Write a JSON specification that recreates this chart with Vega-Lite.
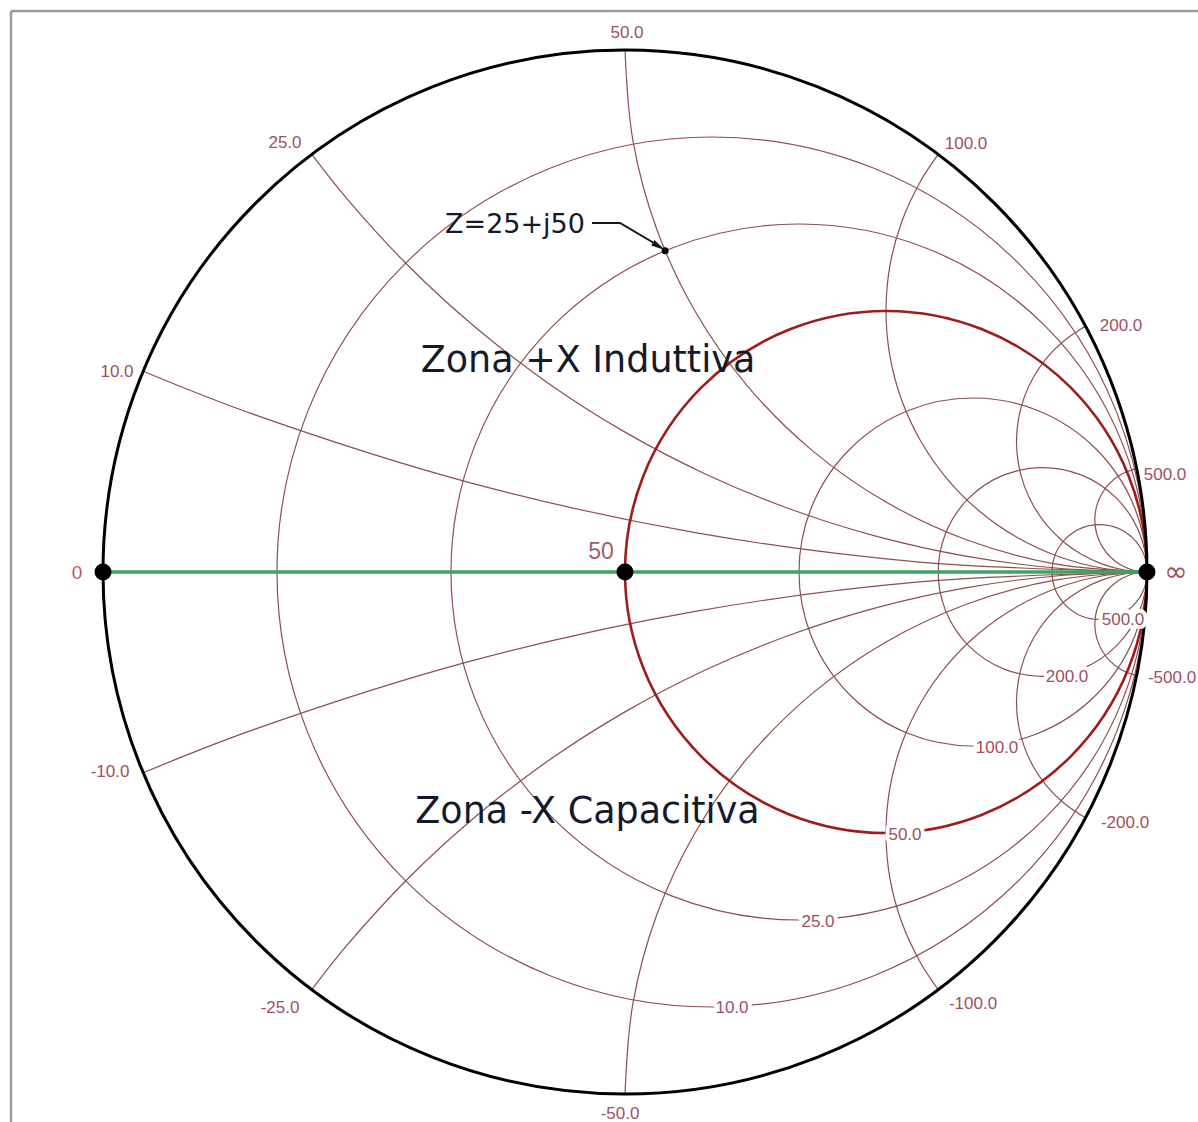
{
 "$schema": "https://vega.github.io/schema/vega-lite/v6.json",
 "width": 1198, "height": 1122,
 "autosize": {"type": "none"},
 "padding": 0,
 "background": "#ffffff",
 "config": {"view": {"stroke": null}},
 "datasets": {
  "borderv": [{"u": -1.17625, "v": -1.06, "v2": 1.07471}],
  "borderh": [{"u": -1.17625, "u2": 1.1, "v": 1.07471}],
  "rcircles": [
   {"r": "0", "kind": "outer", "u": 0, "v": 0, "radius": 1},
   {"r": "10", "kind": "grid", "u": 0.16667, "v": 0, "radius": 0.83333},
   {"r": "25", "kind": "grid", "u": 0.33333, "v": 0, "radius": 0.66667},
   {"r": "50", "kind": "match", "u": 0.5, "v": 0, "radius": 0.5},
   {"r": "100", "kind": "grid", "u": 0.66667, "v": 0, "radius": 0.33333},
   {"r": "200", "kind": "grid", "u": 0.8, "v": 0, "radius": 0.2},
   {"r": "500", "kind": "grid", "u": 0.90909, "v": 0, "radius": 0.09091}
  ],
  "xarcs": [
   {"arc": "p10", "i": 0, "u": 1, "v": 0},
   {"arc": "p10", "i": 1, "u": 0.5642, "v": 0.01905},
   {"arc": "p10", "i": 2, "u": 0.13175, "v": 0.07595},
   {"arc": "p10", "i": 3, "u": -0.2941, "v": 0.17035},
   {"arc": "p10", "i": 4, "u": -0.7101, "v": 0.30155},
   {"arc": "p10", "i": 5, "u": -0.92308, "v": 0.38462},
   {"arc": "p25", "i": 0, "u": 1, "v": 0},
   {"arc": "p25", "i": 1, "u": 0.82568, "v": 0.00762},
   {"arc": "p25", "i": 2, "u": 0.6527, "v": 0.03038},
   {"arc": "p25", "i": 3, "u": 0.48236, "v": 0.06814},
   {"arc": "p25", "i": 4, "u": 0.31596, "v": 0.12062},
   {"arc": "p25", "i": 5, "u": 0.15476, "v": 0.18738},
   {"arc": "p25", "i": 6, "u": 0, "v": 0.26794},
   {"arc": "p25", "i": 7, "u": -0.14716, "v": 0.3617},
   {"arc": "p25", "i": 8, "u": -0.28558, "v": 0.46792},
   {"arc": "p25", "i": 9, "u": -0.41422, "v": 0.58578},
   {"arc": "p25", "i": 10, "u": -0.53208, "v": 0.71442},
   {"arc": "p25", "i": 11, "u": -0.6, "v": 0.8},
   {"arc": "p50", "i": 0, "u": 1, "v": 0},
   {"arc": "p50", "i": 1, "u": 0.82635, "v": 0.01519},
   {"arc": "p50", "i": 2, "u": 0.65798, "v": 0.06031},
   {"arc": "p50", "i": 3, "u": 0.5, "v": 0.13397},
   {"arc": "p50", "i": 4, "u": 0.35721, "v": 0.23396},
   {"arc": "p50", "i": 5, "u": 0.23396, "v": 0.35721},
   {"arc": "p50", "i": 6, "u": 0.13397, "v": 0.5},
   {"arc": "p50", "i": 7, "u": 0.06031, "v": 0.65798},
   {"arc": "p50", "i": 8, "u": 0.01519, "v": 0.82635},
   {"arc": "p50", "i": 9, "u": 0, "v": 1},
   {"arc": "p100", "i": 0, "u": 1, "v": 0},
   {"arc": "p100", "i": 1, "u": 0.91318, "v": 0.0076},
   {"arc": "p100", "i": 2, "u": 0.82899, "v": 0.03016},
   {"arc": "p100", "i": 3, "u": 0.75, "v": 0.06699},
   {"arc": "p100", "i": 4, "u": 0.6786, "v": 0.11698},
   {"arc": "p100", "i": 5, "u": 0.61698, "v": 0.17861},
   {"arc": "p100", "i": 6, "u": 0.56698, "v": 0.25},
   {"arc": "p100", "i": 7, "u": 0.53015, "v": 0.32899},
   {"arc": "p100", "i": 8, "u": 0.50759, "v": 0.41318},
   {"arc": "p100", "i": 9, "u": 0.5, "v": 0.5},
   {"arc": "p100", "i": 10, "u": 0.50759, "v": 0.58683},
   {"arc": "p100", "i": 11, "u": 0.53015, "v": 0.67101},
   {"arc": "p100", "i": 12, "u": 0.56698, "v": 0.75},
   {"arc": "p100", "i": 13, "u": 0.6, "v": 0.8},
   {"arc": "p200", "i": 0, "u": 1, "v": 0},
   {"arc": "p200", "i": 1, "u": 0.95659, "v": 0.0038},
   {"arc": "p200", "i": 2, "u": 0.9145, "v": 0.01508},
   {"arc": "p200", "i": 3, "u": 0.875, "v": 0.03349},
   {"arc": "p200", "i": 4, "u": 0.8393, "v": 0.05849},
   {"arc": "p200", "i": 5, "u": 0.80849, "v": 0.0893},
   {"arc": "p200", "i": 6, "u": 0.78349, "v": 0.125},
   {"arc": "p200", "i": 7, "u": 0.76508, "v": 0.1645},
   {"arc": "p200", "i": 8, "u": 0.7538, "v": 0.20659},
   {"arc": "p200", "i": 9, "u": 0.75, "v": 0.25},
   {"arc": "p200", "i": 10, "u": 0.7538, "v": 0.29341},
   {"arc": "p200", "i": 11, "u": 0.76508, "v": 0.3355},
   {"arc": "p200", "i": 12, "u": 0.78349, "v": 0.375},
   {"arc": "p200", "i": 13, "u": 0.80849, "v": 0.4107},
   {"arc": "p200", "i": 14, "u": 0.8393, "v": 0.44151},
   {"arc": "p200", "i": 15, "u": 0.875, "v": 0.46651},
   {"arc": "p200", "i": 16, "u": 0.88235, "v": 0.47059},
   {"arc": "p500", "i": 0, "u": 1, "v": 0},
   {"arc": "p500", "i": 1, "u": 0.97412, "v": 0.00341},
   {"arc": "p500", "i": 2, "u": 0.95, "v": 0.0134},
   {"arc": "p500", "i": 3, "u": 0.92929, "v": 0.02929},
   {"arc": "p500", "i": 4, "u": 0.9134, "v": 0.05},
   {"arc": "p500", "i": 5, "u": 0.90341, "v": 0.07412},
   {"arc": "p500", "i": 6, "u": 0.9, "v": 0.1},
   {"arc": "p500", "i": 7, "u": 0.90341, "v": 0.12588},
   {"arc": "p500", "i": 8, "u": 0.9134, "v": 0.15},
   {"arc": "p500", "i": 9, "u": 0.92929, "v": 0.17071},
   {"arc": "p500", "i": 10, "u": 0.95, "v": 0.1866},
   {"arc": "p500", "i": 11, "u": 0.97412, "v": 0.19659},
   {"arc": "p500", "i": 12, "u": 0.9802, "v": 0.19802},
   {"arc": "m10", "i": 0, "u": 1, "v": 0},
   {"arc": "m10", "i": 1, "u": 0.5642, "v": -0.01905},
   {"arc": "m10", "i": 2, "u": 0.13175, "v": -0.07595},
   {"arc": "m10", "i": 3, "u": -0.2941, "v": -0.17035},
   {"arc": "m10", "i": 4, "u": -0.7101, "v": -0.30155},
   {"arc": "m10", "i": 5, "u": -0.92308, "v": -0.38462},
   {"arc": "m25", "i": 0, "u": 1, "v": 0},
   {"arc": "m25", "i": 1, "u": 0.82568, "v": -0.00762},
   {"arc": "m25", "i": 2, "u": 0.6527, "v": -0.03038},
   {"arc": "m25", "i": 3, "u": 0.48236, "v": -0.06814},
   {"arc": "m25", "i": 4, "u": 0.31596, "v": -0.12062},
   {"arc": "m25", "i": 5, "u": 0.15476, "v": -0.18738},
   {"arc": "m25", "i": 6, "u": 0, "v": -0.26794},
   {"arc": "m25", "i": 7, "u": -0.14716, "v": -0.3617},
   {"arc": "m25", "i": 8, "u": -0.28558, "v": -0.46792},
   {"arc": "m25", "i": 9, "u": -0.41422, "v": -0.58578},
   {"arc": "m25", "i": 10, "u": -0.53208, "v": -0.71442},
   {"arc": "m25", "i": 11, "u": -0.6, "v": -0.8},
   {"arc": "m50", "i": 0, "u": 1, "v": 0},
   {"arc": "m50", "i": 1, "u": 0.82635, "v": -0.01519},
   {"arc": "m50", "i": 2, "u": 0.65798, "v": -0.06031},
   {"arc": "m50", "i": 3, "u": 0.5, "v": -0.13397},
   {"arc": "m50", "i": 4, "u": 0.35721, "v": -0.23396},
   {"arc": "m50", "i": 5, "u": 0.23396, "v": -0.35721},
   {"arc": "m50", "i": 6, "u": 0.13397, "v": -0.5},
   {"arc": "m50", "i": 7, "u": 0.06031, "v": -0.65798},
   {"arc": "m50", "i": 8, "u": 0.01519, "v": -0.82635},
   {"arc": "m50", "i": 9, "u": 0, "v": -1},
   {"arc": "m100", "i": 0, "u": 1, "v": 0},
   {"arc": "m100", "i": 1, "u": 0.91318, "v": -0.0076},
   {"arc": "m100", "i": 2, "u": 0.82899, "v": -0.03016},
   {"arc": "m100", "i": 3, "u": 0.75, "v": -0.06699},
   {"arc": "m100", "i": 4, "u": 0.6786, "v": -0.11698},
   {"arc": "m100", "i": 5, "u": 0.61698, "v": -0.17861},
   {"arc": "m100", "i": 6, "u": 0.56698, "v": -0.25},
   {"arc": "m100", "i": 7, "u": 0.53015, "v": -0.32899},
   {"arc": "m100", "i": 8, "u": 0.50759, "v": -0.41318},
   {"arc": "m100", "i": 9, "u": 0.5, "v": -0.5},
   {"arc": "m100", "i": 10, "u": 0.50759, "v": -0.58683},
   {"arc": "m100", "i": 11, "u": 0.53015, "v": -0.67101},
   {"arc": "m100", "i": 12, "u": 0.56698, "v": -0.75},
   {"arc": "m100", "i": 13, "u": 0.6, "v": -0.8},
   {"arc": "m200", "i": 0, "u": 1, "v": 0},
   {"arc": "m200", "i": 1, "u": 0.95659, "v": -0.0038},
   {"arc": "m200", "i": 2, "u": 0.9145, "v": -0.01508},
   {"arc": "m200", "i": 3, "u": 0.875, "v": -0.03349},
   {"arc": "m200", "i": 4, "u": 0.8393, "v": -0.05849},
   {"arc": "m200", "i": 5, "u": 0.80849, "v": -0.0893},
   {"arc": "m200", "i": 6, "u": 0.78349, "v": -0.125},
   {"arc": "m200", "i": 7, "u": 0.76508, "v": -0.1645},
   {"arc": "m200", "i": 8, "u": 0.7538, "v": -0.20659},
   {"arc": "m200", "i": 9, "u": 0.75, "v": -0.25},
   {"arc": "m200", "i": 10, "u": 0.7538, "v": -0.29341},
   {"arc": "m200", "i": 11, "u": 0.76508, "v": -0.3355},
   {"arc": "m200", "i": 12, "u": 0.78349, "v": -0.375},
   {"arc": "m200", "i": 13, "u": 0.80849, "v": -0.4107},
   {"arc": "m200", "i": 14, "u": 0.8393, "v": -0.44151},
   {"arc": "m200", "i": 15, "u": 0.875, "v": -0.46651},
   {"arc": "m200", "i": 16, "u": 0.88235, "v": -0.47059},
   {"arc": "m500", "i": 0, "u": 1, "v": 0},
   {"arc": "m500", "i": 1, "u": 0.97412, "v": -0.00341},
   {"arc": "m500", "i": 2, "u": 0.95, "v": -0.0134},
   {"arc": "m500", "i": 3, "u": 0.92929, "v": -0.02929},
   {"arc": "m500", "i": 4, "u": 0.9134, "v": -0.05},
   {"arc": "m500", "i": 5, "u": 0.90341, "v": -0.07412},
   {"arc": "m500", "i": 6, "u": 0.9, "v": -0.1},
   {"arc": "m500", "i": 7, "u": 0.90341, "v": -0.12588},
   {"arc": "m500", "i": 8, "u": 0.9134, "v": -0.15},
   {"arc": "m500", "i": 9, "u": 0.92929, "v": -0.17071},
   {"arc": "m500", "i": 10, "u": 0.95, "v": -0.1866},
   {"arc": "m500", "i": 11, "u": 0.97412, "v": -0.19659},
   {"arc": "m500", "i": 12, "u": 0.9802, "v": -0.19802}
  ],
  "axis": [{"u": -1, "v": 0}, {"u": 1, "v": 0}],
  "markers": [{"point": "0", "u": -1, "v": 0}, {"point": "50", "u": 0, "v": 0}, {"point": "inf", "u": 1, "v": 0}],
  "zpoint": [{"point": "Z", "u": 0.07692, "v": 0.61538}],
  "ticklabels": [
   {"text": "50.0", "u": 0.00383, "v": 1.03257},
   {"text": "25.0", "u": -0.65134, "v": 0.82184},
   {"text": "100.0", "u": 0.65326, "v": 0.81992},
   {"text": "10.0", "u": -0.97318, "v": 0.38314},
   {"text": "200.0", "u": 0.95019, "v": 0.47126},
   {"text": "500.0", "u": 1.03448, "v": 0.18582},
   {"text": "-10.0", "u": -0.98659, "v": -0.38314},
   {"text": "-25.0", "u": -0.66092, "v": -0.83525},
   {"text": "-50.0", "u": -0.00958, "v": -1.03831},
   {"text": "-100.0", "u": 0.66667, "v": -0.82759},
   {"text": "-200.0", "u": 0.95785, "v": -0.48084},
   {"text": "-500.0", "u": 1.04789, "v": -0.20307},
   {"text": "10.0", "u": 0.20498, "v": -0.83525},
   {"text": "25.0", "u": 0.36973, "v": -0.6705},
   {"text": "50.0", "u": 0.5364, "v": -0.50383},
   {"text": "100.0", "u": 0.71264, "v": -0.33716},
   {"text": "200.0", "u": 0.84674, "v": -0.20115},
   {"text": "500.0", "u": 0.95402, "v": -0.09195}
  ],
  "axislabels": [
   {"text": "0", "u": -1.04981, "v": -0.00192},
   {"text": "50", "u": -0.04598, "v": 0.03831},
   {"text": "∞", "u": 1.05556, "v": -0.00192}
  ],
  "notes": [
   {"text": "Zona +X Induttiva", "kind": "zone", "u": -0.07088, "v": 0.38314},
   {"text": "Zona -X Capacitiva", "kind": "zone", "u": -0.07184, "v": -0.48084},
   {"text": "Z=25+j50", "kind": "z", "u": -0.21073, "v": 0.64943}
  ],
  "arrow": [
   {"i": 0, "u": -0.06322, "v": 0.66858},
   {"i": 1, "u": -0.00958, "v": 0.66858},
   {"i": 2, "u": 0.06513, "v": 0.62452}
  ],
  "arrowhead": [{"u": 0.06494, "v": 0.62375}]
 },
 "encoding": {
  "x": {"field": "u", "type": "quantitative", "scale": {"domain": [-1.19732, 1.0977], "nice": false, "zero": false}, "axis": null},
  "y": {"field": "v", "type": "quantitative", "scale": {"domain": [-1.05364, 1.09579], "nice": false, "zero": false}, "axis": null}
 },
 "layer": [
  {"data": {"name": "borderv"}, "mark": {"type": "rule", "color": "#9c9c9c", "strokeWidth": 2.5},
   "encoding": {"y2": {"field": "v2"}}},
  {"data": {"name": "borderh"}, "mark": {"type": "rule", "color": "#9c9c9c", "strokeWidth": 2.5},
   "encoding": {"x2": {"field": "u2"}}},
  {"data": {"name": "xarcs"}, "mark": {"type": "line", "interpolate": "catmull-rom", "stroke": "#8c4f4f", "strokeWidth": 1.2},
   "encoding": {"detail": {"field": "arc"}, "order": {"field": "i", "type": "quantitative"}}},
  {"data": {"name": "rcircles"}, "transform": [{"filter": "datum.kind === 'grid'"}],
   "mark": {"type": "point", "shape": "circle", "filled": false, "stroke": "#8c4f4f", "strokeWidth": 1.2, "opacity": 1},
   "encoding": {"size": {"field": "radius", "type": "quantitative", "scale": {"type": "pow", "exponent": 2, "domain": [0, 1], "range": [0, 1089936]}, "legend": null}}},
  {"data": {"name": "rcircles"}, "transform": [{"filter": "datum.kind === 'match'"}],
   "mark": {"type": "point", "shape": "circle", "filled": false, "stroke": "#9e1c1c", "strokeWidth": 2.6, "opacity": 1},
   "encoding": {"size": {"field": "radius", "type": "quantitative", "scale": {"type": "pow", "exponent": 2, "domain": [0, 1], "range": [0, 1089936]}, "legend": null}}},
  {"data": {"name": "rcircles"}, "transform": [{"filter": "datum.kind === 'outer'"}],
   "mark": {"type": "point", "shape": "circle", "filled": false, "stroke": "#000000", "strokeWidth": 3, "opacity": 1},
   "encoding": {"size": {"field": "radius", "type": "quantitative", "scale": {"type": "pow", "exponent": 2, "domain": [0, 1], "range": [0, 1089936]}, "legend": null}}},
  {"data": {"name": "axis"}, "mark": {"type": "line", "stroke": "#3fa45f", "strokeWidth": 3.5}, "encoding": {}},
  {"data": {"name": "markers"}, "mark": {"type": "point", "shape": "circle", "filled": true, "color": "#000000", "size": 289, "opacity": 1}, "encoding": {}},
  {"data": {"name": "zpoint"}, "mark": {"type": "point", "shape": "circle", "filled": true, "color": "#000000", "size": 49, "opacity": 1}, "encoding": {}},
  {"data": {"name": "ticklabels"}, "mark": {"type": "text", "font": "Liberation Sans", "fontSize": 17, "align": "center", "baseline": "middle", "fill": "#ffffff", "stroke": "#ffffff", "strokeWidth": 8, "strokeJoin": "round"},
   "encoding": {"text": {"field": "text"}}},
  {"data": {"name": "ticklabels"}, "mark": {"type": "text", "font": "Liberation Sans", "fontSize": 17, "align": "center", "baseline": "middle", "fill": "#a0505e"},
   "encoding": {"text": {"field": "text"}}},
  {"data": {"name": "axislabels"}, "transform": [{"filter": "datum.text === '0'"}], "mark": {"type": "text", "font": "Liberation Sans", "fontSize": 19, "align": "center", "baseline": "middle", "fill": "#c05a5a"},
   "encoding": {"text": {"field": "text"}}},
  {"data": {"name": "axislabels"}, "transform": [{"filter": "datum.text === '50'"}], "mark": {"type": "text", "font": "Liberation Sans", "fontSize": 23, "align": "center", "baseline": "middle", "fill": "#a0606a"},
   "encoding": {"text": {"field": "text"}}},
  {"data": {"name": "axislabels"}, "transform": [{"filter": "datum.text === '∞'"}], "mark": {"type": "text", "font": "DejaVu Sans", "fontSize": 28, "align": "center", "baseline": "middle", "fill": "#a0505e"},
   "encoding": {"text": {"field": "text"}}},
  {"data": {"name": "notes"}, "transform": [{"filter": "datum.kind === 'zone'"}], "mark": {"type": "text", "font": "DejaVu Sans", "fontSize": 36.5, "align": "center", "baseline": "alphabetic", "fill": "#141a2a"},
   "encoding": {"text": {"field": "text"}}},
  {"data": {"name": "notes"}, "transform": [{"filter": "datum.kind === 'z'"}], "mark": {"type": "text", "font": "DejaVu Sans", "fontSize": 27, "align": "center", "baseline": "alphabetic", "fill": "#141a2a"},
   "encoding": {"text": {"field": "text"}}},
  {"data": {"name": "arrow"}, "mark": {"type": "line", "stroke": "#141414", "strokeWidth": 2},
   "encoding": {"order": {"field": "i", "type": "quantitative"}}},
  {"data": {"name": "arrowhead"}, "mark": {"type": "point", "shape": "M1,0L-1,-0.45L-1,0.45Z", "filled": true, "color": "#141414", "size": 200, "angle": 31, "opacity": 1}, "encoding": {}}
 ]
}
